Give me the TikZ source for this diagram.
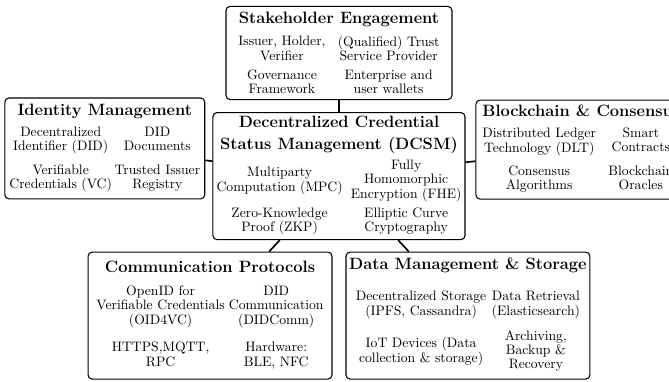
\documentclass[tikz,border=0pt]{standalone}
\usepackage{amsmath,amssymb}
\usepackage{xcolor}
\usepackage{tikz}

\newcommand{\cellbox}[1]{\begin{tabular}{@{}c@{}}#1\end{tabular}}
\newcommand{\boxtitle}[1]{\multicolumn{2}{@{}c@{}}{\makebox[0pt]{\large\bfseries #1}}}
\renewcommand{\arraystretch}{0.86}

\tikzset{
  panel/.style={draw, thick, rounded corners=3pt, align=center, inner sep=1pt},
  link/.style={very thick},
}

\begin{document}
\begin{tikzpicture}
\useasboundingbox (0,0) rectangle (17.17,9.78);
\clip (0,0) rectangle (17.17,9.78);
% central box
\node[panel, minimum width=6.47cm, minimum height=3.26cm] (dcsm) at (8.70,5.26) {%
\begin{tabular}{@{}c@{\hspace{6pt}}c@{}}
\boxtitle{Decentralized Credential}\\ \noalign{\vskip 4pt}
\boxtitle{Status Management (DCSM)}\\ \noalign{\vskip 4.5pt}
\cellbox{Multiparty\\Computation (MPC)} & \cellbox{Fully\\Homomorphic\\Encryption (FHE)}\\ \noalign{\vskip 3.5pt}
\cellbox{Zero-Knowledge\\Proof (ZKP)} & \cellbox{Elliptic Curve\\Cryptography}
\end{tabular}};
% surrounding boxes
\node[panel, minimum width=5.80cm, minimum height=2.36cm] (stake) at (8.70,8.42) {%
\begin{tabular}{@{}c@{\hspace{9pt}}c@{}}
\noalign{\vskip 3pt}
\boxtitle{Stakeholder Engagement}\\ \noalign{\vskip 6pt}
\cellbox{Issuer, Holder,\\Verifier} & \cellbox{(Qualified) Trust\\Service Provider}\\ \noalign{\vskip 4pt}
\cellbox{Governance\\Framework} & \cellbox{Enterprise and\\user wallets}
\end{tabular}};
\node[panel, minimum width=5.13cm, minimum height=2.59cm] (ident) at (2.69,5.97) {%
\begin{tabular}{@{}c@{\hspace{2pt}}c@{}}
\boxtitle{Identity Management}\\ \noalign{\vskip 5pt}
\cellbox{Decentralized\\Identifier (DID)} & \cellbox{DID\\Documents}\\ \noalign{\vskip 7pt}
\cellbox{Verifiable\\Credentials (VC)} & \cellbox{Trusted Issuer\\Registry}
\end{tabular}};
\node[panel, minimum width=5.41cm, minimum height=2.54cm] (chain) at (14.92,5.94) {%
\begin{tabular}{@{}c@{\hspace{4pt}}c@{}}
\multicolumn{2}{@{}c@{}}{\large\bfseries Blockchain \& Consensus}\\ \noalign{\vskip 5pt}
\cellbox{Distributed Ledger\\Technology (DLT)} & \cellbox{Smart\\Contracts}\\ \noalign{\vskip 7pt}
\cellbox{Consensus\\Algorithms} & \cellbox{Blockchain\\Oracles}
\end{tabular}};
\node[panel, minimum width=6.26cm, minimum height=3.26cm] (comm) at (5.39,1.68) {%
\begin{tabular}{@{}c@{\hspace{3pt}}c@{}}
\boxtitle{Communication Protocols}\\ \noalign{\vskip 6.5pt}
\cellbox{OpenID for\\Verifiable Credentials\\(OID4VC)} & \cellbox{DID\\Communication\\(DIDComm)}\\ \noalign{\vskip 10pt}
\cellbox{HTTPS,MQTT,\\RPC} & \cellbox{Hardware:\\BLE, NFC}
\end{tabular}};
\node[panel, minimum width=6.26cm, minimum height=3.26cm] (data) at (12.01,1.68) {%
\begin{tabular}{@{}c@{\hspace{4pt}}c@{}}
\boxtitle{Data Management \& Storage}\\ \noalign{\vskip 12.5pt}
\cellbox{Decentralized Storage\\(IPFS, Cassandra)} & \cellbox{Data Retrieval\\(Elasticsearch)}\\ \noalign{\vskip 8pt}
\cellbox{IoT Devices (Data\\collection \& storage)} & \cellbox{Archiving,\\Backup \&\\Recovery}
\end{tabular}};
% connections
\draw[link] (stake) -- (dcsm);
\draw[link] (ident) -- (dcsm);
\draw[link] (chain) -- (dcsm);
\draw[link] (dcsm) -- (comm);
\draw[link] (dcsm) -- (data);
\end{tikzpicture}
\end{document}
